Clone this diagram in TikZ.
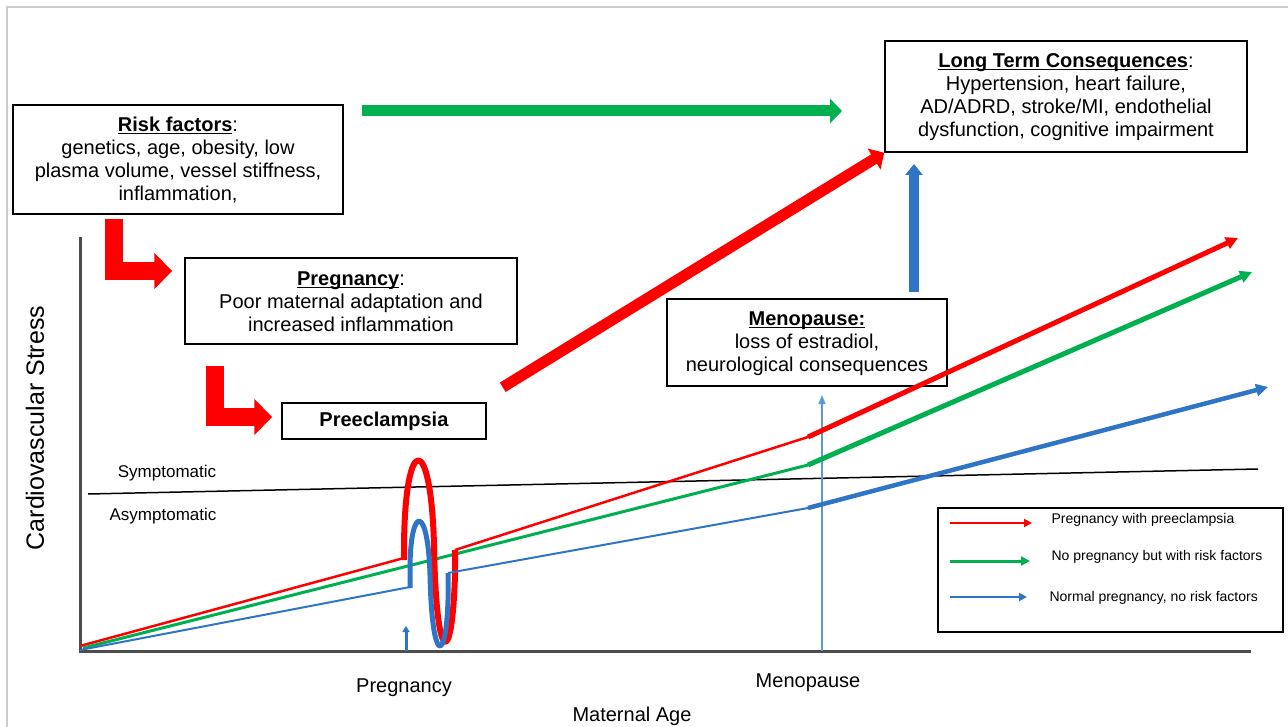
\documentclass[tikz,border=0pt]{standalone}
\usepackage{fontspec}
\setmainfont{Liberation Sans}
\usetikzlibrary{arrows.meta}
\definecolor{cvred}{HTML}{FF0000}
\definecolor{cvgreen}{HTML}{00B050}
\definecolor{cvblue}{HTML}{2E75C6}
\definecolor{lightblue}{HTML}{5B9BD5}
\newcommand\boxhead[1]{\underline{\smash{#1}}\strut}

\begin{document}
\begin{tikzpicture}[
    x = 1pt, y = -1pt,
    box/.style = {draw, line width=1.5pt, align=center, inner sep=0pt,
        font=\fontsize{20}{23}\selectfont},
    larrow/.style = {cvred, line width=18pt, -{Triangle[width=35pt,length=18pt]}},
    bigarrow/.style = {line width=11pt, -{Triangle[width=24pt,length=12pt]}},
    curve/.style = {line join=round},
    tip/.style = {-{Triangle[width=12pt,length=12pt]}},
    axislabel/.style = {font=\fontsize{20}{23}\selectfont},
    zone/.style = {font=\fontsize{17}{19}\selectfont},
    legtext/.style = {anchor=west, font=\fontsize{14}{16}\selectfont}
  ]
  \useasboundingbox (0,0) rectangle (1288,727);
  \draw[gray!40, line width=1.5pt] (7,727) -- (7,7) -- (1288,7);

  % boxes
  \node[box, minimum width=330pt, minimum height=109pt] (risk) at (178,159.5)
    {\boxhead{\textbf{Risk factors}}:\\ genetics, age, obesity, low\\
     plasma volume, vessel stiffness,\\ inflammation,};
  \node[box, minimum width=332pt, minimum height=86pt] (preg) at (351,301)
    {\boxhead{\textbf{Pregnancy}}:\\ Poor maternal adaptation and\\ increased inflammation};
  \node[box, minimum width=204pt, minimum height=36pt] (pre) at (384,421)
    {\textbf{Preeclampsia}};
  \node[box, minimum width=280pt, minimum height=87pt] (meno) at (807,342.5)
    {\boxhead{\textbf{Menopause:}}\\ loss of estradiol,\\ neurological consequences};
  \node[box, minimum width=362pt, minimum height=111pt] (long) at (1066,96.5)
    {\boxhead{\textbf{Long Term Consequences}}:\\ Hypertension, heart failure,\\
     AD/ADRD, stroke/MI, endothelial\\ dysfunction, cognitive impairment};

  % big arrows
  \draw[larrow] ([xshift=-64pt,yshift=-4pt]risk.south) |- ([xshift=-12pt,yshift=30pt]preg.west);
  \draw[larrow] ([xshift=-136pt,yshift=-21pt]preg.south) |- ([xshift=-9pt,yshift=4pt]pre.west);
  \coordinate (gs) at (362,111);
  \coordinate (ge) at (842,111);
  \draw[bigarrow, cvgreen] (gs) -- (ge);
  \draw[bigarrow, cvred] ([xshift=16pt,yshift=15pt]pre.north east) -- (long.south west);
  \coordinate (bs) at (914,292);
  \coordinate (be) at (914,164);
  \draw[bigarrow, cvblue, line width=10pt, -{Triangle[width=17pt,length=11pt]}] (bs) -- (be);

  % axes
  \draw[gray!60!black, line width=3pt] (80,237) -- (80,651) -- (1251,651);
  \node[rotate=90, font=\fontsize{25}{28}\selectfont] (ylab) at (35,428) {Cardiovascular Stress};
  \node[axislabel] (xlab) at (632,716) {Maternal Age};
  \node[axislabel] (plab) at (404,688) {Pregnancy};
  \node[axislabel] (mlab) at (808,683) {Menopause};

  % threshold
  \draw[black, line width=1.5pt] (88,494) -- (1258,469);
  \node[zone] (sym) at (167,473) {Symptomatic};
  \node[zone] (asym) at (163,516) {Asymptomatic};

  % menopause marker
  \draw[lightblue, line width=1.5pt, -{Triangle[width=7pt,length=9pt]}] (822,651) -- (822,395);
  \draw[cvblue, line width=3pt, -{Triangle[width=7pt,length=6pt]}] (406,651) -- (406,626);

  % curves
  \draw[curve, cvred, line width=2.5pt] (80,646) -- (404,558);
  \draw[curve, cvgreen, line width=3pt] (83,648) -- (808,465);
  \draw[curve, cvblue, line width=2pt] (80,650) -- (410,587);
  \draw[curve, cvred, line width=6pt] (404,560) -- (404,546)
    .. controls (405,432) and (431,432) .. (434,545)
    .. controls (436,665) and (452,672) .. (455,575) -- (455,550);
  \draw[curve, cvblue, line width=5pt] (410,588) -- (410,565)
    .. controls (411,505) and (428,505) .. (430,575)
    .. controls (432,665) and (446,665) .. (448,600) -- (448,573);
  \draw[curve, cvred, line width=2.5pt] (455,550) -- (808,437);
  \draw[curve, cvblue, line width=2pt] (448,573) -- (808,508);
  \draw[curve, cvred, line width=5pt, tip] (808,437) -- (1238,238);
  \draw[curve, cvgreen, line width=5pt, tip] (808,465) -- (1252,272);
  \draw[curve, cvblue, line width=4.5pt, tip] (808,508) -- (1268,387);

  % legend
  \node[draw, line width=1.5pt, minimum width=345pt, minimum height=124pt, inner sep=0pt] (leg) at (1110.5,570) {};
  \draw[cvred, line width=2pt, -{Triangle[width=8pt,length=8pt]}] (950,523) -- (1032,523);
  \draw[cvgreen, line width=3pt, -{Triangle[width=9pt,length=9pt]}] (950,561) -- (1030,561);
  \draw[cvblue, line width=2pt, -{Triangle[width=8pt,length=8pt]}] (950,597) -- (1027,597);
  \node[legtext] (l1) at (1048,520) {Pregnancy with preeclampsia};
  \node[legtext] (l2) at (1048,557) {No pregnancy but with risk factors};
  \node[legtext] (l3) at (1046,598) {Normal pregnancy, no risk factors};
\end{tikzpicture}
\end{document}
